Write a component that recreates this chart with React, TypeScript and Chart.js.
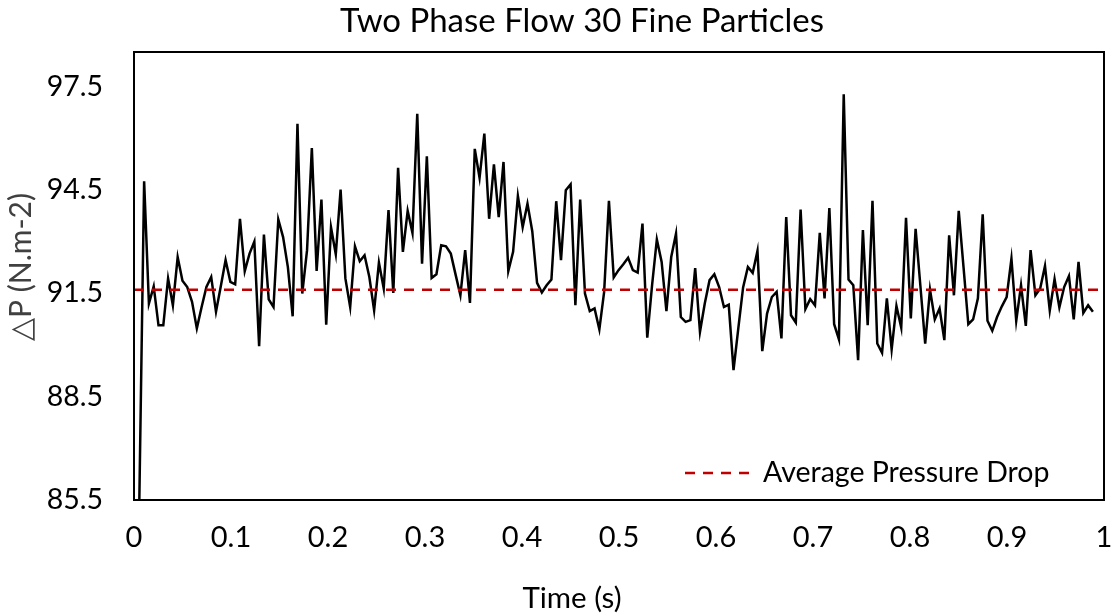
import React, { useEffect, useRef } from "react";
import { Chart, registerables } from "chart.js";

Chart.register(...registerables);

const TITLE = "Two Phase Flow 30 Fine Particles";
const X_TITLE = "Time (s)";
const Y_TITLE = "△P (N.m-2)";
const SERIES_LABEL = "Pressure Drop";
const AVG_LABEL = "Average Pressure Drop";

const X_TICKS = [0, 0.1, 0.2, 0.3, 0.4, 0.5, 0.6, 0.7, 0.8, 0.9, 1];
const Y_TICKS = [85.5, 88.5, 91.5, 94.5, 97.5];
const X_MIN = 0;
const X_MAX = 1;
const Y_MIN = 85.5;
const Y_MAX = 98.5;

const AVERAGE = 91.6;

// uniform sampling of the time axis (s)
const T_START = 0.0055;
const T_STEP = 0.00494;

const pressure = [
  85.5, 94.75, 91.2, 91.7, 90.57, 90.57, 91.93, 91.15, 92.55, 91.86,
  91.68, 91.25, 90.48, 91.1, 91.68, 91.97, 90.96, 91.7, 92.46, 91.83,
  91.76, 93.66, 92.14, 92.65, 93.0, 89.96, 93.2, 91.32, 91.1, 93.64,
  93.13, 92.26, 90.83, 96.42, 91.49, 92.75, 95.71, 92.15, 94.22, 90.59,
  93.41, 92.63, 94.51, 91.93, 91.1, 92.86, 92.43, 92.6, 91.97, 91.0,
  92.39, 91.64, 93.91, 91.51, 95.14, 92.7, 93.89, 93.25, 96.71, 92.36,
  95.47, 91.94, 92.05, 92.89, 92.86, 92.65, 92.04, 91.44, 92.75, 91.22,
  95.69, 94.85, 96.13, 93.66, 95.24, 93.71, 95.31, 92.14, 92.7, 94.32,
  93.42, 94.1, 93.3, 91.8, 91.52, 91.73, 91.9, 94.17, 92.46, 94.49,
  94.66, 91.15, 94.22, 91.49, 90.98, 91.06, 90.45, 91.54, 94.18, 91.96,
  92.17, 92.34, 92.53, 92.17, 92.1, 93.52, 90.21, 91.73, 93.06, 92.41,
  90.98, 92.55, 93.23, 90.81, 90.67, 90.72, 92.23, 90.38, 91.2, 91.88,
  92.05, 91.68, 91.1, 91.17, 89.27, 90.48, 91.67, 92.26, 92.09, 92.73,
  89.82, 90.91, 91.39, 91.54, 90.19, 93.71, 90.86, 90.65, 93.93, 91.04,
  91.33, 91.15, 93.25, 91.35, 93.97, 90.6, 90.16, 97.27, 91.9, 91.73,
  89.56, 93.33, 90.57, 94.18, 90.04, 89.77, 91.35, 89.87, 91.13, 90.5,
  93.69, 90.77, 93.37, 91.71, 90.04, 91.61, 90.74, 91.06, 90.14, 93.18,
  91.44, 93.89, 92.26, 90.6, 90.74, 91.35, 93.79, 90.7, 90.41, 90.81,
  91.12, 91.39, 92.5, 90.7, 91.73, 90.55, 92.75, 91.44, 91.64, 92.29,
  91.0, 91.91, 91.09, 91.68, 92.0, 90.74, 92.41, 90.93, 91.15, 90.96,
];

const FONT = "Lato";

const decorPlugin = {
  id: "decor",
  afterDraw(chart: any) {
    const { ctx, chartArea: a } = chart;
    ctx.save();
    // plot frame
    ctx.strokeStyle = "#000";
    ctx.lineWidth = 2;
    ctx.setLineDash([]);
    ctx.strokeRect(a.left, a.top, a.right - a.left, a.bottom - a.top);

    // chart title
    ctx.fillStyle = "#000";
    ctx.textAlign = "center";
    ctx.textBaseline = "middle";
    ctx.font = `33px ${FONT}`;
    ctx.fillText(TITLE, a.left + 448, a.top - 31);

    // x axis title
    ctx.font = `29.5px ${FONT}`;
    ctx.fillText(X_TITLE, a.left + 438, a.bottom + 98);

    // y axis title
    ctx.save();
    ctx.translate(21, a.top + 215);
    ctx.rotate(-Math.PI / 2);
    ctx.fillStyle = "#404040";
    ctx.font = `30px ${FONT}`;
    ctx.fillText(Y_TITLE, 0, 0);
    ctx.restore();

    // legend (inside plot, bottom right)
    const ds = chart.data.datasets[0];
    const ly = a.bottom - 27;
    const lx = a.right - 419;
    ctx.strokeStyle = ds.borderColor;
    ctx.lineWidth = ds.borderWidth;
    ctx.setLineDash(ds.borderDash);
    ctx.beginPath();
    ctx.moveTo(lx, ly);
    ctx.lineTo(lx + 68, ly);
    ctx.stroke();
    ctx.setLineDash([]);
    ctx.fillStyle = "#000";
    ctx.textAlign = "left";
    ctx.font = `28.5px ${FONT}`;
    ctx.fillText(ds.label, lx + 78, ly);
    ctx.restore();
  },
};

export default function App() {
  const canvasRef = useRef<HTMLCanvasElement>(null);

  useEffect(() => {
    if (!canvasRef.current) return;
    Chart.defaults.font.family = FONT;
    const series = pressure.map((p, i) => ({ x: T_START + i * T_STEP, y: p }));
    const avg = [
      { x: X_MIN, y: AVERAGE },
      { x: X_MAX, y: AVERAGE },
    ];
    const chart = new Chart(canvasRef.current, {
      type: "line",
      data: {
        datasets: [
          {
            label: AVG_LABEL,
            data: avg,
            borderColor: "#C00000",
            borderWidth: 2.5,
            borderDash: [10, 8],
            pointRadius: 0,
            order: 0,
          },
          {
            label: SERIES_LABEL,
            data: series,
            borderColor: "#000000",
            borderWidth: 2.5,
            pointRadius: 0,
            tension: 0,
            order: 1,
          },
        ],
      },
      options: {
        animation: false,
        responsive: true,
        maintainAspectRatio: false,
        layout: { padding: { left: 0, right: 9, top: 52, bottom: 0 } },
        plugins: {
          legend: { display: false },
          tooltip: { enabled: false },
          title: { display: false },
        },
        scales: {
          x: {
            type: "linear",
            min: X_MIN,
            max: X_MAX,
            grid: { display: false, drawTicks: false },
            border: { display: false },
            afterBuildTicks: (s: any) => {
              s.ticks = X_TICKS.map((v) => ({ value: v }));
            },
            afterFit: (s: any) => {
              s.height = 115;
              s.paddingLeft = 0;
              s.paddingRight = 0;
            },
            ticks: {
              color: "#000",
              font: { size: 29 },
              padding: 20,
              maxRotation: 0,
              autoSkip: false,
              callback: (v: any) => String(Number(Number(v).toFixed(1))),
            },
          },
          y: {
            type: "linear",
            min: Y_MIN,
            max: Y_MAX,
            grid: { display: false, drawTicks: false },
            border: { display: false },
            afterBuildTicks: (s: any) => {
              s.ticks = Y_TICKS.map((v) => ({ value: v }));
            },
            afterFit: (s: any) => {
              s.width = 134;
              s.paddingTop = 0;
              s.paddingBottom = 0;
            },
            ticks: {
              color: "#000",
              font: { size: 28.5 },
              padding: 31,
              autoSkip: false,
              callback: (v: any) => Number(v).toFixed(1),
            },
          },
        },
      },
      plugins: [decorPlugin],
    });
    return () => chart.destroy();
  }, []);

  return (
    <div
      style={{
        position: "absolute",
        left: 0,
        top: 0,
        width: 1113,
        height: 615,
        background: "#fff",
      }}
    >
      <canvas ref={canvasRef} />
    </div>
  );
}
